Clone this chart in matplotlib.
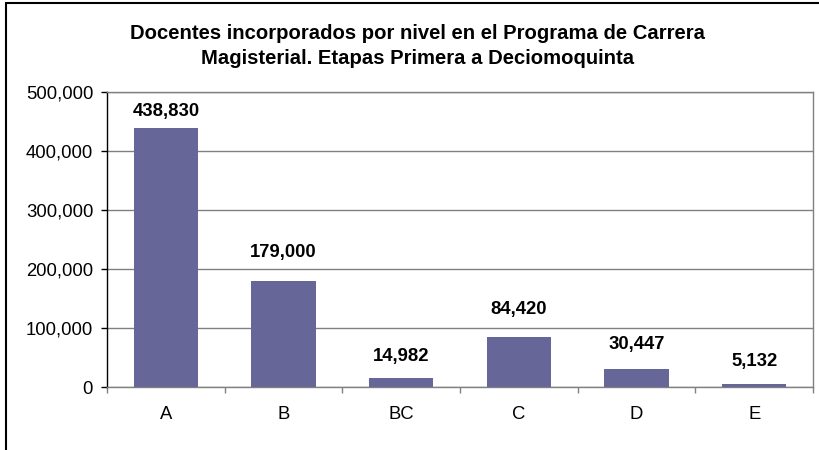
import matplotlib.pyplot as plt
from matplotlib.patches import Rectangle
from matplotlib.ticker import FuncFormatter

niveles = ["A", "B", "BC", "C", "D", "E"]
docentes = [438830, 179000, 14982, 84420, 30447, 5132]
y_ticks = [0, 100000, 200000, 300000, 400000, 500000]

# vertical offset (points) of each value label centre above its bar
label_offsets = [11.8, 20.9, 15.9, 20.2, 17.8, 15.9]

plt.rcParams['font.family'] = ['Liberation Sans', 'DejaVu Sans']

fig = plt.figure(figsize=(8.19, 4.5), dpi=100)
ax = fig.add_axes([107 / 819, 1 - 387 / 450, 706 / 819, 295 / 450])

x = range(len(niveles))
bars = ax.bar(x, docentes, width=0.545, color="#666699", zorder=3)

ax.set_xlim(-0.5, len(niveles) - 0.5)
ax.set_ylim(0, 500000)
ax.set_yticks(y_ticks)
ax.yaxis.set_major_formatter(FuncFormatter(lambda v, p: f"{int(v):,}"))
ax.set_xticks(list(x))
ax.set_xticklabels(niveles)
ax.set_xticks([i - 0.5 for i in range(len(niveles) + 1)], minor=True)

ax.tick_params(axis="y", labelsize=13.3, length=4, width=1, color="black", pad=6)
ax.tick_params(axis="x", which="major", length=0, labelsize=13.3, pad=14)
ax.tick_params(axis="x", which="minor", length=4, width=1, color="#808080")

ax.grid(axis="y", color="#808080", linewidth=1, zorder=0)
for side in ["top", "right", "bottom"]:
    ax.spines[side].set_color("#808080")
    ax.spines[side].set_linewidth(1)
ax.spines["left"].set_color("black")
ax.spines["left"].set_linewidth(1)

for b, v, off in zip(bars, docentes, label_offsets):
    ax.annotate(f"{v:,}", (b.get_x() + b.get_width() / 2, v),
                xytext=(0, off), textcoords="offset points",
                ha="center", va="center", fontsize=13.3, fontweight="bold")

fig.text(418 / 819, 1 - 46 / 450,
         "Docentes incorporados por nivel en el Programa de Carrera\n"
         "Magisterial. Etapas Primera a Deciomoquinta",
         ha="center", va="center", fontsize=14.6, fontweight="bold",
         linespacing=1.35)

fig.patches.append(Rectangle((6 / 819, -0.1), 1.2, 1 - 3 / 450 + 0.1,
                             transform=fig.transFigure, fill=False,
                             edgecolor="black", linewidth=1.5))

fig.savefig("out.png", dpi=100)
